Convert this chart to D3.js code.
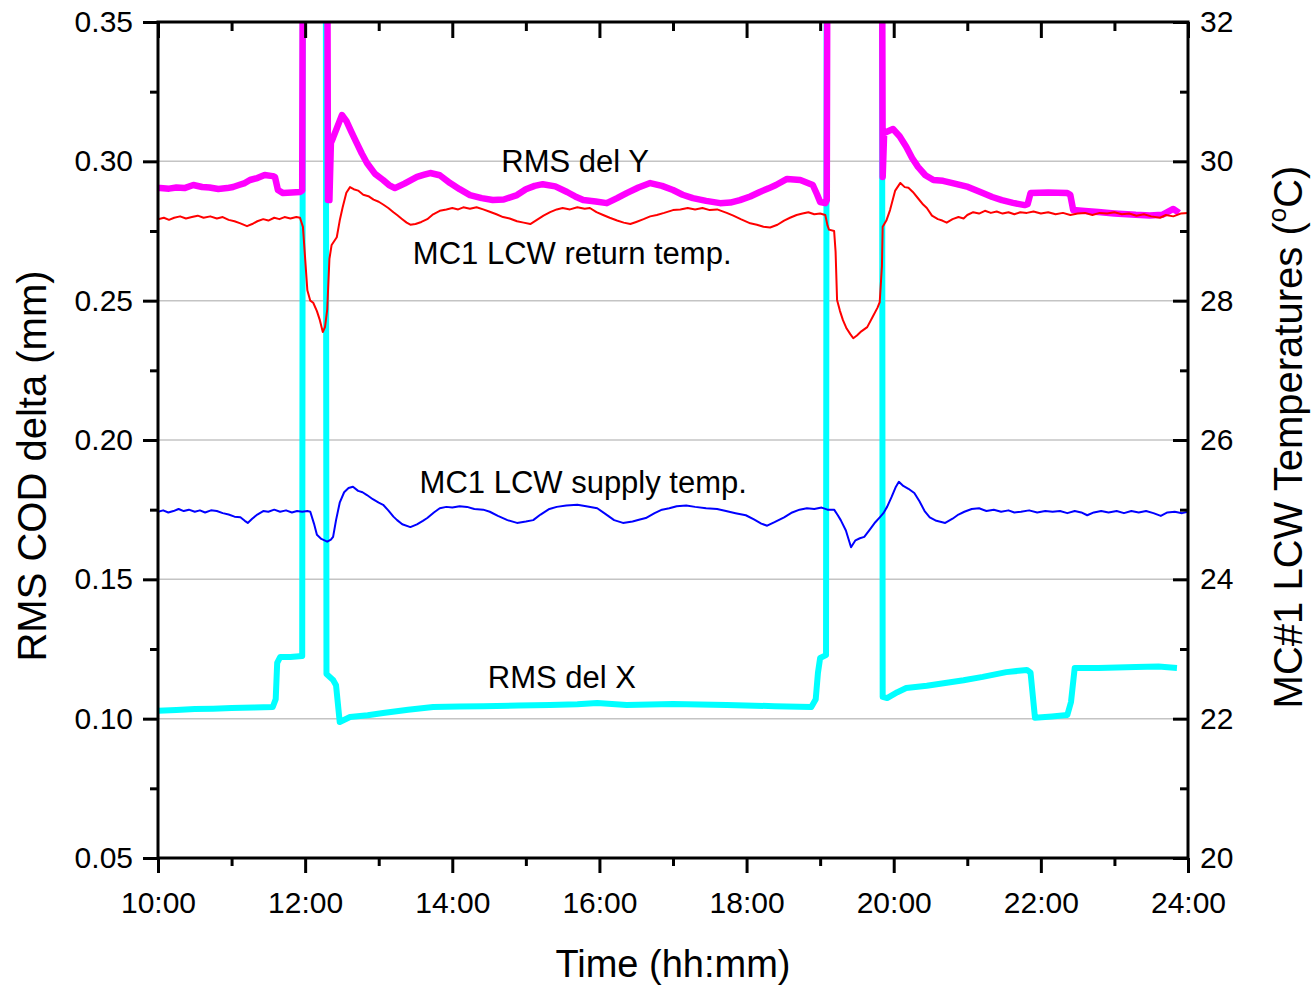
<!DOCTYPE html>
<html>
<head>
<meta charset="utf-8">
<script src="https://cdn.jsdelivr.net/npm/d3@7"></script>
<style>
  html, body { margin: 0; padding: 0; background: #fff; }
  svg { display: block; font-family: "Liberation Sans", Arial, sans-serif; }
</style>
</head>
<body>
<svg id="chart" width="1313" height="988"></svg>
<script>
// Time axis (hours of the day) and tick labels
const hourTicks = [10, 12, 14, 16, 18, 20, 22, 24];
const hourMinorTicks = [11, 13, 15, 17, 19, 21, 23];
const codTicks = [0.05, 0.10, 0.15, 0.20, 0.25, 0.30, 0.35];
const codMinorTicks = [0.075, 0.125, 0.175, 0.225, 0.275, 0.325];
const tempTicks = [20, 22, 24, 26, 28, 30, 32];
const tempMinorTicks = [21, 23, 25, 27, 29, 31];

// RMS del Y (mm) : [hour, value]; beam-loss spikes run above the frame
const rmsDelY = [
  [10.00,0.2904],[10.03,0.2904],[10.15,0.2902],[10.25,0.2906],[10.36,0.2904],[10.48,0.2915],
  [10.60,0.2908],[10.70,0.2906],[10.82,0.2901],[10.94,0.2904],[11.02,0.2908],[11.10,0.2915],
  [11.18,0.2922],[11.25,0.2933],[11.35,0.2940],[11.45,0.2951],[11.56,0.2947],[11.59,0.2944],
  [11.63,0.2897],[11.70,0.2886],[11.82,0.2888],[11.93,0.2890],[11.96,0.2895],[11.97,0.40],
  [12.30,0.40],[12.31,0.2861],[12.33,0.2861],[12.35,0.3066],[12.38,0.3085],[12.50,0.3166],
  [12.56,0.3145],[12.63,0.3105],[12.70,0.3066],[12.77,0.3028],[12.84,0.2994],[12.95,0.2955],
  [13.06,0.2933],[13.14,0.2915],[13.22,0.2904],[13.35,0.2920],[13.52,0.2944],[13.62,0.2952],
  [13.70,0.2958],[13.83,0.2950],[13.97,0.2922],[14.10,0.2900],[14.24,0.2879],[14.40,0.2868],
  [14.55,0.2861],[14.70,0.2863],[14.88,0.2879],[15.00,0.2900],[15.12,0.2912],[15.23,0.2918],
  [15.40,0.2910],[15.56,0.2890],[15.67,0.2874],[15.78,0.2861],[15.95,0.2856],[16.10,0.2850],
  [16.24,0.2868],[16.37,0.2886],[16.53,0.2906],[16.69,0.2922],[16.85,0.2912],[17.00,0.2897],
  [17.13,0.2880],[17.27,0.2868],[17.45,0.2858],[17.64,0.2850],[17.78,0.2852],[17.91,0.2861],
  [18.05,0.2874],[18.18,0.2890],[18.30,0.2903],[18.40,0.2915],[18.55,0.2937],[18.73,0.2933],
  [18.90,0.2915],[18.96,0.2880],[19.00,0.2854],[19.07,0.2850],[19.09,0.2860],[19.10,0.40],
  [19.84,0.40],[19.85,0.2944],[19.87,0.3102],[19.99,0.3116],[20.08,0.3090],[20.17,0.3052],
  [20.25,0.3012],[20.33,0.2980],[20.43,0.2950],[20.54,0.2933],[20.67,0.2930],[20.80,0.2922],
  [21.01,0.2908],[21.21,0.2886],[21.34,0.2872],[21.47,0.2861],[21.62,0.2851],[21.78,0.2843],
  [21.82,0.2846],[21.86,0.2886],[22.10,0.2888],[22.36,0.2886],[22.40,0.2880],[22.44,0.2825],
  [22.60,0.2822],[22.78,0.2818],[23.00,0.2813],[23.29,0.2808],[23.48,0.2806],[23.65,0.2808],
  [23.80,0.2829],[23.88,0.2815]
];

// RMS del X (mm)
const rmsDelX = [
  [10.00,0.1028],[10.25,0.1031],[10.50,0.1035],[10.75,0.1036],[11.00,0.1038],[11.30,0.1040],
  [11.56,0.1042],[11.60,0.1070],[11.62,0.1200],[11.66,0.1221],[11.80,0.1221],[11.96,0.1225],
  [11.97,0.40],[12.28,0.40],[12.29,0.1160],[12.38,0.1139],[12.42,0.1120],[12.47,0.0988],
  [12.61,0.1006],[12.85,0.1012],[13.06,0.1020],[13.40,0.1032],[13.74,0.1042],[14.10,0.1044],
  [14.42,0.1045],[14.90,0.1047],[15.33,0.1049],[15.70,0.1052],[15.97,0.1056],[16.37,0.1049],
  [17.00,0.1053],[17.73,0.1049],[18.38,0.1045],[18.88,0.1042],[18.94,0.1070],[18.97,0.1164],
  [19.00,0.1218],[19.08,0.1228],[19.09,0.40],[19.84,0.40],[19.85,0.1078],[19.91,0.1074],
  [20.05,0.1095],[20.17,0.1110],[20.45,0.1118],[20.70,0.1128],[20.95,0.1138],[21.21,0.1150],
  [21.53,0.1167],[21.81,0.1175],[21.86,0.1165],[21.92,0.1003],[22.15,0.1008],[22.36,0.1013],
  [22.41,0.1060],[22.46,0.1182],[22.78,0.1182],[23.29,0.1185],[23.60,0.1187],[23.85,0.1182]
];

// MC1 LCW return temperature (°C)
const returnTemp = [
  [10.00,29.17],[10.08,29.19],[10.15,29.16],[10.22,29.19],[10.30,29.21],[10.38,29.18],
  [10.46,29.20],[10.54,29.22],[10.62,29.19],[10.71,29.21],[10.80,29.18],[10.88,29.20],
  [10.96,29.16],[11.04,29.14],[11.12,29.11],[11.21,29.07],[11.28,29.10],[11.35,29.14],
  [11.43,29.17],[11.50,29.15],[11.58,29.19],[11.65,29.17],[11.72,29.20],[11.80,29.18],
  [11.88,29.20],[11.93,29.19],[11.97,29.06],[12.03,28.15],[12.07,28.00],[12.11,27.97],
  [12.16,27.85],[12.20,27.72],[12.24,27.55],[12.27,27.62],[12.30,27.87],[12.33,28.60],
  [12.36,28.80],[12.43,28.91],[12.47,29.15],[12.51,29.34],[12.56,29.55],[12.61,29.63],
  [12.66,29.60],[12.72,29.58],[12.79,29.52],[12.86,29.50],[12.93,29.45],[13.00,29.42],
  [13.06,29.38],[13.13,29.33],[13.20,29.27],[13.25,29.23],[13.32,29.17],[13.38,29.12],
  [13.43,29.09],[13.50,29.10],[13.58,29.13],[13.66,29.17],[13.74,29.24],[13.83,29.29],
  [13.92,29.31],[14.00,29.33],[14.08,29.31],[14.15,29.34],[14.24,29.32],[14.33,29.34],
  [14.42,29.31],[14.50,29.28],[14.60,29.24],[14.69,29.20],[14.78,29.18],[14.88,29.14],
  [14.97,29.12],[15.06,29.10],[15.15,29.16],[15.24,29.22],[15.33,29.27],[15.42,29.31],
  [15.50,29.33],[15.60,29.31],[15.70,29.34],[15.80,29.32],[15.87,29.33],[15.96,29.27],
  [16.05,29.23],[16.14,29.19],[16.24,29.15],[16.33,29.12],[16.42,29.10],[16.50,29.13],
  [16.60,29.17],[16.69,29.21],[16.78,29.23],[16.88,29.26],[17.00,29.30],[17.10,29.31],
  [17.20,29.33],[17.30,29.31],[17.40,29.33],[17.50,29.30],[17.60,29.31],[17.73,29.26],
  [17.82,29.22],[17.92,29.17],[18.05,29.11],[18.14,29.09],[18.23,29.06],[18.32,29.05],
  [18.42,29.09],[18.51,29.15],[18.59,29.19],[18.68,29.23],[18.76,29.25],[18.84,29.27],
  [18.92,29.24],[19.00,29.25],[19.07,29.23],[19.10,29.08],[19.12,29.02],[19.19,29.00],
  [19.21,28.70],[19.23,28.01],[19.27,27.85],[19.31,27.72],[19.36,27.60],[19.41,27.52],
  [19.45,27.46],[19.50,27.50],[19.56,27.56],[19.64,27.62],[19.72,27.78],[19.78,27.90],
  [19.81,27.98],[19.84,28.50],[19.85,29.06],[19.90,29.15],[19.95,29.30],[20.02,29.58],
  [20.09,29.69],[20.15,29.63],[20.20,29.62],[20.26,29.56],[20.33,29.47],[20.40,29.38],
  [20.45,29.33],[20.52,29.22],[20.60,29.17],[20.66,29.15],[20.72,29.12],[20.80,29.17],
  [20.88,29.20],[20.95,29.18],[21.00,29.23],[21.08,29.27],[21.16,29.25],[21.24,29.29],
  [21.32,29.26],[21.40,29.28],[21.48,29.25],[21.56,29.27],[21.64,29.24],[21.72,29.27],
  [21.81,29.26],[21.90,29.28],[22.00,29.25],[22.10,29.27],[22.20,29.24],[22.30,29.26],
  [22.40,29.23],[22.50,29.25],[22.60,29.26],[22.70,29.23],[22.80,29.26],[22.90,29.25],
  [23.00,29.27],[23.10,29.24],[23.20,29.25],[23.30,29.22],[23.40,29.24],[23.50,29.21],
  [23.62,29.19],[23.70,29.23],[23.80,29.21],[23.90,29.25],[24.00,29.26]
];

// MC1 LCW supply temperature (°C)
const supplyTemp = [
  [10.00,24.97],[10.07,24.99],[10.14,24.96],[10.21,24.98],[10.28,25.01],[10.35,24.98],
  [10.42,25.00],[10.50,24.97],[10.57,24.99],[10.64,24.96],[10.72,24.99],[10.80,24.98],
  [10.88,24.95],[10.96,24.93],[11.04,24.90],[11.12,24.89],[11.18,24.84],[11.22,24.81],
  [11.28,24.87],[11.35,24.93],[11.43,24.98],[11.50,24.97],[11.58,25.00],[11.66,24.97],
  [11.74,24.99],[11.82,24.96],[11.89,24.98],[11.96,24.97],[12.03,24.98],[12.07,24.97],
  [12.12,24.80],[12.16,24.64],[12.22,24.58],[12.30,24.54],[12.35,24.57],[12.38,24.61],
  [12.42,24.85],[12.47,25.10],[12.53,25.25],[12.59,25.31],[12.65,25.33],[12.72,25.27],
  [12.78,25.25],[12.84,25.21],[12.92,25.15],[13.00,25.10],[13.06,25.07],[13.13,24.99],
  [13.20,24.90],[13.25,24.85],[13.32,24.79],[13.43,24.75],[13.52,24.79],[13.60,24.84],
  [13.66,24.88],[13.75,24.96],[13.83,25.02],[13.92,25.04],[14.00,25.03],[14.10,25.05],
  [14.20,25.04],[14.30,25.01],[14.42,25.00],[14.51,24.97],[14.62,24.91],[14.75,24.85],
  [14.88,24.81],[15.00,24.83],[15.10,24.85],[15.20,24.93],[15.32,25.01],[15.42,25.04],
  [15.55,25.06],[15.70,25.07],[15.82,25.05],[15.97,25.02],[16.08,24.94],[16.20,24.85],
  [16.32,24.81],[16.45,24.83],[16.55,24.86],[16.63,24.88],[16.75,24.95],[16.85,25.00],
  [16.95,25.02],[17.05,25.05],[17.18,25.06],[17.30,25.04],[17.45,25.02],[17.60,25.01],
  [17.72,24.98],[17.85,24.95],[17.99,24.92],[18.10,24.86],[18.20,24.80],[18.28,24.77],
  [18.38,24.82],[18.51,24.89],[18.62,24.96],[18.72,25.00],[18.82,25.02],[18.92,25.01],
  [19.02,25.03],[19.10,25.00],[19.19,25.00],[19.24,24.92],[19.28,24.85],[19.35,24.70],
  [19.42,24.46],[19.48,24.56],[19.54,24.59],[19.60,24.61],[19.68,24.72],[19.75,24.82],
  [19.81,24.89],[19.86,24.95],[19.91,25.04],[19.97,25.18],[20.03,25.33],[20.07,25.40],
  [20.13,25.34],[20.20,25.30],[20.28,25.24],[20.35,25.12],[20.42,24.98],[20.49,24.89],
  [20.58,24.84],[20.70,24.81],[20.80,24.87],[20.88,24.93],[20.96,24.97],[21.06,25.01],
  [21.16,25.02],[21.26,24.98],[21.36,25.00],[21.46,24.97],[21.56,24.99],[21.64,24.96],
  [21.73,24.97],[21.84,24.99],[21.95,24.96],[22.06,24.98],[22.16,24.97],[22.26,24.98],
  [22.36,24.95],[22.46,24.98],[22.55,24.96],[22.63,24.92],[22.72,24.96],[22.82,24.98],
  [22.92,24.96],[23.03,24.98],[23.13,24.95],[23.23,24.98],[23.33,24.96],[23.43,24.98],
  [23.53,24.95],[23.63,24.91],[23.72,24.96],[23.82,24.97],[23.92,24.95],[24.00,24.97]
];

// In-plot series labels: [text, hour, value, axis]
const seriesLabels = [
  ["RMS del Y", 15.67, 0.2962, "cod"],
  ["MC1 LCW return temp.", 15.63, 28.53, "temp"],
  ["MC1 LCW supply temp.", 15.78, 25.24, "temp"],
  ["RMS del X", 15.49, 0.1110, "cod"]
];

(function () {
  const svg = d3.select("#chart");
  const pL = 158, pR = 1188, pT = 22, pB = 858;

  const x = d3.scaleLinear().domain([10, 24]).range([pL, pR]);
  const yCod = d3.scaleLinear().domain([0.05, 0.35]).range([pB, pT]);
  const yTemp = d3.scaleLinear().domain([20, 32]).range([pB, pT]);

  svg.append("defs").append("clipPath").attr("id", "plotClip")
    .append("rect").attr("x", pL).attr("y", pT)
    .attr("width", pR - pL).attr("height", pB - pT);

  // horizontal grid at the major COD ticks
  svg.append("g").selectAll("line")
    .data(codTicks.filter(d => d > 0.06 && d < 0.34))
    .join("line")
    .attr("x1", pL).attr("x2", pR)
    .attr("y1", d => yCod(d)).attr("y2", d => yCod(d))
    .attr("stroke", "#c4c4c4").attr("stroke-width", 1.5);

  const plot = svg.append("g").attr("clip-path", "url(#plotClip)");

  const lineCod = d3.line().x(d => x(d[0])).y(d => yCod(d[1]));
  const lineTemp = d3.line().x(d => x(d[0])).y(d => yTemp(d[1]));

  plot.append("path").datum(rmsDelX).attr("d", lineCod)
    .attr("fill", "none").attr("stroke", "#00ffff").attr("stroke-width", 6)
    .attr("stroke-linejoin", "round");
  plot.append("path").datum(rmsDelY).attr("d", lineCod)
    .attr("fill", "none").attr("stroke", "#ff00ff").attr("stroke-width", 6.5)
    .attr("stroke-linejoin", "round");
  plot.append("path").datum(returnTemp).attr("d", lineTemp)
    .attr("fill", "none").attr("stroke", "#ff0000").attr("stroke-width", 2)
    .attr("stroke-linejoin", "round");
  plot.append("path").datum(supplyTemp).attr("d", lineTemp)
    .attr("fill", "none").attr("stroke", "#0000ff").attr("stroke-width", 2)
    .attr("stroke-linejoin", "round");

  // series labels
  svg.append("g").selectAll("text").data(seriesLabels).join("text")
    .attr("x", d => x(d[1]))
    .attr("y", d => d[3] === "cod" ? yCod(d[2]) : yTemp(d[2]))
    .attr("text-anchor", "middle")
    .attr("font-size", 31)
    .attr("fill", "#000")
    .text(d => d[0]);

  // axes
  function styleAxis(g) {
    g.select(".domain").remove();
    g.selectAll(".tick line").attr("stroke", "#000").attr("stroke-width", 3);
    g.selectAll(".tick text").attr("fill", "#000").attr("font-size", 30)
      .attr("font-family", "'Liberation Sans', Arial, sans-serif");
  }

  const hourFmt = d => d + ":00";

  svg.append("g").attr("transform", `translate(0,${pB})`)
    .call(d3.axisBottom(x).tickValues(hourTicks).tickFormat(hourFmt).tickSize(15).tickPadding(19))
    .call(styleAxis);
  svg.append("g").attr("transform", `translate(0,${pB})`)
    .call(d3.axisBottom(x).tickValues(hourMinorTicks).tickFormat("").tickSize(8))
    .call(styleAxis);
  svg.append("g").attr("transform", `translate(0,${pT})`)
    .call(d3.axisTop(x).tickValues(hourTicks).tickFormat("").tickSize(-16))
    .call(styleAxis);
  svg.append("g").attr("transform", `translate(0,${pT})`)
    .call(d3.axisTop(x).tickValues(hourMinorTicks).tickFormat("").tickSize(-9))
    .call(styleAxis);

  svg.append("g").attr("transform", `translate(${pL},0)`)
    .call(d3.axisLeft(yCod).tickValues(codTicks).tickFormat(d3.format(".2f")).tickSize(15).tickPadding(10))
    .call(styleAxis);
  svg.append("g").attr("transform", `translate(${pL},0)`)
    .call(d3.axisLeft(yCod).tickValues(codMinorTicks).tickFormat("").tickSize(8))
    .call(styleAxis);

  svg.append("g").attr("transform", `translate(${pR},0)`)
    .call(d3.axisRight(yTemp).tickValues(tempTicks).tickFormat(d3.format("d")).tickSize(-15).tickPadding(12))
    .call(styleAxis);
  svg.append("g").attr("transform", `translate(${pR},0)`)
    .call(d3.axisRight(yTemp).tickValues(tempMinorTicks).tickFormat("").tickSize(-8))
    .call(styleAxis);

  // frame
  svg.append("rect").attr("x", pL).attr("y", pT)
    .attr("width", pR - pL).attr("height", pB - pT)
    .attr("fill", "none").attr("stroke", "#000").attr("stroke-width", 3);

  // axis titles
  svg.append("text")
    .attr("x", (pL + pR) / 2).attr("y", 977)
    .attr("text-anchor", "middle").attr("font-size", 38)
    .text("Time (hh:mm)");

  svg.append("text")
    .attr("transform", `translate(46,${(pT + pB) / 2 + 26}) rotate(-90)`)
    .attr("text-anchor", "middle").attr("font-size", 40)
    .text("RMS COD delta (mm)");

  const rTitle = svg.append("text")
    .attr("transform", `translate(1302,437) rotate(-90)`)
    .attr("text-anchor", "middle").attr("font-size", 40);
  rTitle.append("tspan").text("MC#1 LCW Temperatures (");
  rTitle.append("tspan").attr("font-size", 26).attr("dy", -16).text("o");
  rTitle.append("tspan").attr("dy", 16).text("C)");
})();
</script>
</body>
</html>
